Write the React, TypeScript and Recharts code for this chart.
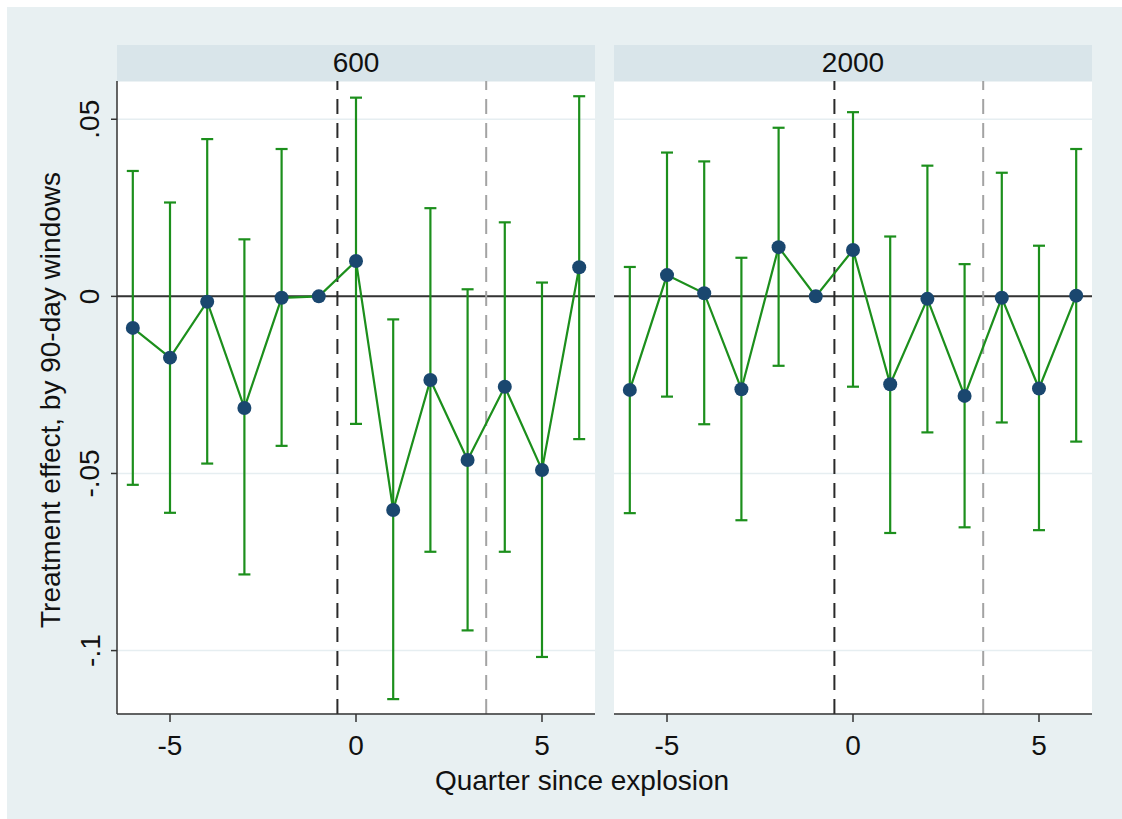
import { ComposedChart, Line, XAxis, YAxis, CartesianGrid, ReferenceLine, ErrorBar } from 'recharts'

const QUARTERS = [-6, -5, -4, -3, -2, -1, 0, 1, 2, 3, 4, 5, 6]

// panel "600"
const EST_600 = [-0.0089, -0.0173, -0.0015, -0.0315, -0.0004, 0, 0.0100, -0.0603, -0.0236, -0.0462, -0.0255, -0.0490, 0.0082]
const LO_600 = [-0.0532, -0.0611, -0.0472, -0.0785, -0.0422, 0, -0.0360, -0.1137, -0.0721, -0.0943, -0.0721, -0.1018, -0.0403]
const HI_600 = [0.0354, 0.0265, 0.0444, 0.0161, 0.0416, 0, 0.0561, -0.0065, 0.0249, 0.0020, 0.0209, 0.0039, 0.0565]

// panel "2000"
const EST_2000 = [-0.0264, 0.0060, 0.0009, -0.0262, 0.0139, 0, 0.0131, -0.0248, -0.0007, -0.0281, -0.0004, -0.0260, 0.0002]
const LO_2000 = [-0.0612, -0.0283, -0.0361, -0.0632, -0.0196, 0, -0.0255, -0.0668, -0.0384, -0.0652, -0.0356, -0.0660, -0.0410]
const HI_2000 = [0.0083, 0.0406, 0.0381, 0.0109, 0.0476, 0, 0.0520, 0.0169, 0.0369, 0.0091, 0.0349, 0.0143, 0.0416]

const X_TICKS = [-5, 0, 5]
const Y_TICKS = [-0.1, -0.05, 0, 0.05]
const Y_TICK_LABELS: Record<string, string> = { '-0.1': '-.1', '-0.05': '-.05', '0': '0', '0.05': '.05' }

const FONT = '"Liberation Sans", Arial, sans-serif'
const FONT_SIZE = 28
const BG = '#e8f0f2'
const HEADER = '#d9e5ea'
const GREEN = '#1c8f1c'
const NAVY = '#1a476f'

const PLOT_W = 478
const PLOT_H = 633
const AXIS_H = 60
const Y_AXIS_W = 110

function XTick(props: any) {
  const { x, y, payload } = props
  return (
    <text x={x} y={y + 21} textAnchor="middle" dominantBaseline="central"
      fontSize={FONT_SIZE} fontFamily={FONT} fill="#111">
      {payload.value}
    </text>
  )
}

function YTick(props: any) {
  const { x, y, payload } = props
  const cx = x - 19
  return (
    <text x={cx} y={y} textAnchor="middle" dominantBaseline="central"
      transform={`rotate(-90, ${cx}, ${y})`} fontSize={FONT_SIZE} fontFamily={FONT} fill="#111">
      {Y_TICK_LABELS[String(payload.value)]}
    </text>
  )
}

function Panel({ est, lo, hi, showY }: { est: number[]; lo: number[]; hi: number[]; showY: boolean }) {
  const data = QUARTERS.map((q, i) => ({
    q,
    est: est[i],
    err: [est[i] - lo[i], hi[i] - est[i]],
  }))
  return (
    <ComposedChart width={PLOT_W + (showY ? Y_AXIS_W : 0)} height={PLOT_H + AXIS_H} data={data}
      margin={{ top: 0, right: 0, bottom: 0, left: 0 }}>
      <CartesianGrid vertical={false} stroke="#e6eef1" strokeWidth={1.5} fill="#ffffff" />
      <XAxis type="number" dataKey="q" domain={[-6.425, 6.425]} ticks={X_TICKS} height={AXIS_H}
        tickSize={8} tick={<XTick />} stroke="#333" strokeWidth={1.5} allowDataOverflow />
      <YAxis type="number" domain={[-0.1179, 0.0608]} ticks={Y_TICKS} width={Y_AXIS_W} hide={!showY}
        tickSize={6} tick={<YTick />} stroke="#333" strokeWidth={1.5} allowDataOverflow />
      <ReferenceLine y={0} stroke="#333" strokeWidth={2} />
      <ReferenceLine x={-0.5} stroke="#2a2a2a" strokeWidth={2} strokeDasharray="15 9" />
      <ReferenceLine x={3.5} stroke="#a3a3a3" strokeWidth={2} strokeDasharray="15 9" />
      <Line type="linear" dataKey="est" stroke={GREEN} strokeWidth={2.2}
        dot={{ r: 7, fill: NAVY, stroke: NAVY, strokeWidth: 0 }} activeDot={false}
        isAnimationActive={false}>
        <ErrorBar dataKey="err" direction="y" width={6} stroke={GREEN} strokeWidth={2.2} isAnimationActive={false} />
      </Line>
    </ComposedChart>
  )
}

export default function App() {
  const headerStyle = {
    position: 'absolute' as const, top: 38, height: 36, width: PLOT_W, background: HEADER,
    display: 'flex', alignItems: 'center', justifyContent: 'center',
    fontSize: FONT_SIZE, fontFamily: FONT, color: '#111',
  }
  return (
    <div style={{ position: 'fixed', left: 7, top: 7, right: 0, bottom: 0, background: BG, fontFamily: FONT }}>
      <div style={{ ...headerStyle, left: 110 }}>600</div>
      <div style={{ ...headerStyle, left: 607 }}>2000</div>
      <div style={{ position: 'absolute', left: 0, top: 74 }}>
        <Panel est={EST_600} lo={LO_600} hi={HI_600} showY />
      </div>
      <div style={{ position: 'absolute', left: 607, top: 74 }}>
        <Panel est={EST_2000} lo={LO_2000} hi={HI_2000} showY={false} />
      </div>
      <div style={{
        position: 'absolute', left: -276, top: 373, width: 640, height: 40,
        display: 'flex', alignItems: 'center', justifyContent: 'center',
        transform: 'rotate(-90deg)', fontSize: FONT_SIZE, color: '#111', whiteSpace: 'nowrap',
      }}>
        Treatment effect, by 90-day windows
      </div>
      <div style={{
        position: 'absolute', left: 275, top: 754, width: 600, height: 40,
        display: 'flex', alignItems: 'center', justifyContent: 'center',
        fontSize: FONT_SIZE, color: '#111', whiteSpace: 'nowrap',
      }}>
        Quarter since explosion
      </div>
    </div>
  )
}
